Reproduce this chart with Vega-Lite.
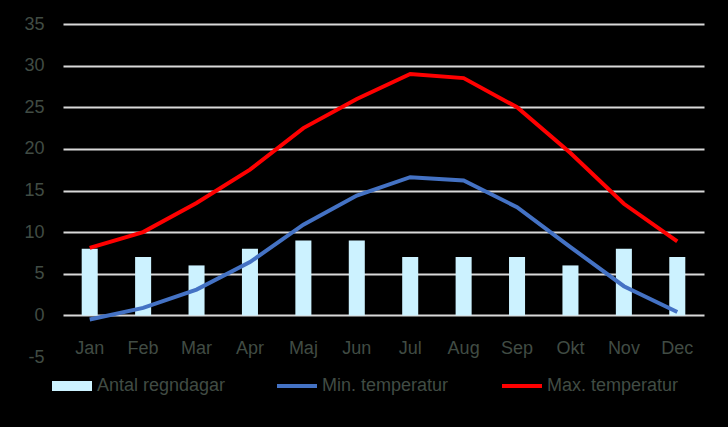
{
  "$schema": "https://vega.github.io/schema/vega-lite/v6.json",
  "width": 641,
  "height": 333,
  "autosize": {"type": "none"},
  "padding": {"left": 63, "top": 24, "right": 24, "bottom": 70},
  "background": "#000000",
  "config": {"view": {"stroke": null}, "font": "Liberation Sans"},
  "data": {
    "values": [
      {"month": "Jan", "series": "Antal regndagar", "value": 8},
      {"month": "Feb", "series": "Antal regndagar", "value": 7},
      {"month": "Mar", "series": "Antal regndagar", "value": 6},
      {"month": "Apr", "series": "Antal regndagar", "value": 8},
      {"month": "Maj", "series": "Antal regndagar", "value": 9},
      {"month": "Jun", "series": "Antal regndagar", "value": 9},
      {"month": "Jul", "series": "Antal regndagar", "value": 7},
      {"month": "Aug", "series": "Antal regndagar", "value": 7},
      {"month": "Sep", "series": "Antal regndagar", "value": 7},
      {"month": "Okt", "series": "Antal regndagar", "value": 6},
      {"month": "Nov", "series": "Antal regndagar", "value": 8},
      {"month": "Dec", "series": "Antal regndagar", "value": 7},
      {"month": "Jan", "series": "Min. temperatur", "value": -0.5},
      {"month": "Feb", "series": "Min. temperatur", "value": 0.9},
      {"month": "Mar", "series": "Min. temperatur", "value": 3.1},
      {"month": "Apr", "series": "Min. temperatur", "value": 6.4},
      {"month": "Maj", "series": "Min. temperatur", "value": 10.9},
      {"month": "Jun", "series": "Min. temperatur", "value": 14.4},
      {"month": "Jul", "series": "Min. temperatur", "value": 16.6},
      {"month": "Aug", "series": "Min. temperatur", "value": 16.2},
      {"month": "Sep", "series": "Min. temperatur", "value": 13.0},
      {"month": "Okt", "series": "Min. temperatur", "value": 8.2},
      {"month": "Nov", "series": "Min. temperatur", "value": 3.5},
      {"month": "Dec", "series": "Min. temperatur", "value": 0.4},
      {"month": "Jan", "series": "Max. temperatur", "value": 8.1},
      {"month": "Feb", "series": "Max. temperatur", "value": 10.0},
      {"month": "Mar", "series": "Max. temperatur", "value": 13.5},
      {"month": "Apr", "series": "Max. temperatur", "value": 17.5},
      {"month": "Maj", "series": "Max. temperatur", "value": 22.5},
      {"month": "Jun", "series": "Max. temperatur", "value": 26.0},
      {"month": "Jul", "series": "Max. temperatur", "value": 29.0},
      {"month": "Aug", "series": "Max. temperatur", "value": 28.5},
      {"month": "Sep", "series": "Max. temperatur", "value": 25.0},
      {"month": "Okt", "series": "Max. temperatur", "value": 19.5},
      {"month": "Nov", "series": "Max. temperatur", "value": 13.4},
      {"month": "Dec", "series": "Max. temperatur", "value": 8.9}
    ]
  },
  "encoding": {
    "x": {
      "field": "month",
      "type": "nominal",
      "sort": ["Jan", "Feb", "Mar", "Apr", "Maj", "Jun", "Jul", "Aug", "Sep", "Okt", "Nov", "Dec"],
      "scale": {"paddingInner": 0, "paddingOuter": 0},
      "axis": {
        "title": null,
        "labelAngle": 0,
        "domain": false,
        "ticks": false,
        "tickSize": 0,
        "grid": false,
        "labelPadding": -4,
        "labelBaseline": "alphabetic",
        "labelFontSize": 18,
        "labelColor": "#414C44"
      }
    },
    "y": {
      "field": "value",
      "type": "quantitative",
      "scale": {"domain": [-5, 35], "nice": false},
      "axis": {
        "title": null,
        "values": [-5, 0, 5, 10, 15, 20, 25, 30, 35],
        "labelExpr": "'' + datum.value",
        "domain": false,
        "ticks": false,
        "tickSize": 0,
        "labelPadding": 19,
        "labelFontSize": 18,
        "labelColor": "#414C44",
        "gridColor": "#D9D9D9",
        "gridWidth": 2,
        "gridOpacity": {"condition": {"test": "datum.value < 0", "value": 0}, "value": 1}
      }
    },
    "color": {
      "field": "series",
      "type": "nominal",
      "scale": {
        "domain": ["Antal regndagar", "Min. temperatur", "Max. temperatur"],
        "range": ["#CCF2FF", "#4472C4", "#FF0000"]
      },
      "legend": {
        "title": null,
        "orient": "none",
        "legendX": -11,
        "legendY": 342,
        "direction": "horizontal",
        "columns": 3,
        "gridAlign": "all",
        "columnPadding": 48,
        "padding": 0,
        "symbolSize": 1600,
        "symbolStrokeWidth": 0,
        "symbolType": "M-1,-0.1H1V0.1H-1Z",
        "labelFontSize": 18,
        "labelColor": "#414C44",
        "labelOffset": 5,
        "labelLimit": 300,
        "encode": {
          "symbols": {
            "update": {
              "shape": {"signal": "datum.value === 'Antal regndagar' ? 'M-1,-0.25H1V0.25H-1Z' : 'M-1,-0.1H1V0.1H-1Z'"},
              "fill": {"scale": "color", "field": "value"},
              "opacity": {"value": 1}
            }
          }
        }
      }
    }
  },
  "layer": [
    {
      "transform": [{"filter": "datum.series === 'Antal regndagar'"}],
      "mark": {"type": "bar", "width": {"band": 0.3}},
      "encoding": {"y2": {"datum": 0}}
    },
    {
      "transform": [{"filter": "datum.series !== 'Antal regndagar'"}],
      "mark": {"type": "line", "strokeWidth": 4}
    }
  ]
}
